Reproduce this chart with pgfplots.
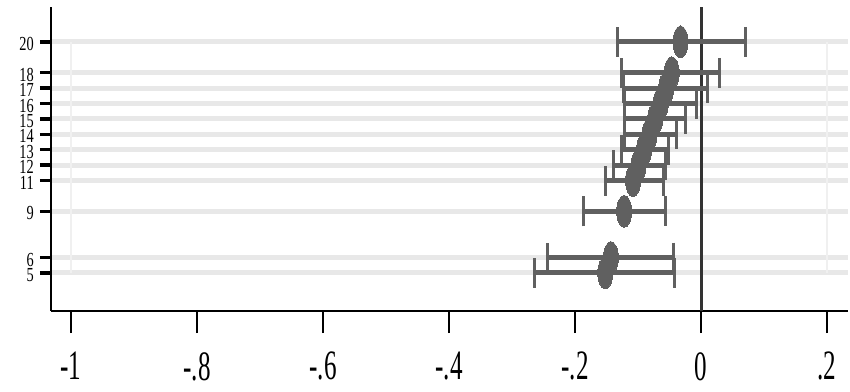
\documentclass[border=0pt]{standalone}
\usepackage{fontspec}
\usepackage{pgfplots}
\usepackage{pgfplotstable}
\pgfplotsset{compat=1.18}
\newfontfamily\xtickfont[FakeStretch=0.6]{Liberation Serif}
\newfontfamily\ytickfont[FakeStretch=0.72]{Liberation Serif}
\definecolor{ptc}{HTML}{606060}
\definecolor{gridc}{HTML}{E8E8E8}
\definecolor{vgridc}{HTML}{F0F0F0}

% coefficient estimates with lower and upper confidence bounds
\pgfplotstableread{
y  est      lo      hi
20 -0.0325  -0.133  0.071
18 -0.0465  -0.127  0.029
17 -0.0553  -0.123  0.010
16 -0.0640  -0.122  -0.007
15 -0.0728  -0.122  -0.024
14 -0.0816  -0.122  -0.039
13 -0.0904  -0.127  -0.051
12 -0.0991  -0.139  -0.056
11 -0.1079  -0.152  -0.059
9  -0.1220  -0.186  -0.056
6  -0.1430  -0.244  -0.044
5  -0.1520  -0.265  -0.042
}\coefs

\begin{document}
\begin{tikzpicture}
\path[use as bounding box] (0,0) rectangle (850bp,392bp);
\begin{axis}[
  at={(51bp,81bp)}, anchor=south west,
  scale only axis, width=797bp, height=304bp,
  xmin=-1.0317, xmax=0.2333,
  ymin=2.53, ymax=22.27,
  axis x line*=bottom, axis y line*=left,
  axis line style={line width=2.6bp, black},
  tick align=outside,
  major tick length=11bp,
  xtick={-1,-0.8,-0.6,-0.4,-0.2,0,0.2},
  xticklabels={-1,-.8,-.6,-.4,-.2,0,.2},
  ytick={5,6,9,11,12,13,14,15,16,17,18,20},
  yticklabels={5,6,9,11,12,13,14,15,16,17,18,20},
  xtick style={/pgfplots/major tick length=22bp, line width=2bp, black},
  ytick style={line width=3.4bp, black},
  xticklabel style={font=\xtickfont\fontsize{42}{42}\selectfont, inner sep=0pt, anchor=north, yshift=-30bp},
  yticklabel style={font=\ytickfont\fontsize{20}{20}\selectfont, inner sep=0pt, anchor=east, xshift=-6bp, yshift=-2bp},
  ymajorgrids,
  major grid style={gridc, line width=5bp},
  clip=false,
]
% faint vertical guides at the outer x labels
\addplot[vgridc, line width=2bp, forget plot] coordinates {(-1,5) (-1,20)};
\addplot[vgridc, line width=2bp, forget plot] coordinates {(0.2,5) (0.2,20)};
% zero reference line
\addplot[black!80, line width=3bp, forget plot] coordinates {(0,2.53) (0,22.27)};
% confidence intervals
\addplot[draw=none, mark=none, forget plot,
  error bars/.cd, x dir=both, x explicit,
  error bar style={draw=ptc, line width=5bp},
  error mark options={draw=ptc, line width=3bp, mark size=15bp, rotate=90}]
  table[x=est, y=y,
        x error plus expr=\thisrow{hi}-\thisrow{est},
        x error minus expr=\thisrow{est}-\thisrow{lo}] {\coefs};
% point estimates
\addplot[only marks, mark=*, mark size=7.5bp, ptc,
  mark options={fill=ptc, draw=ptc, line width=0pt, yscale=2.13}]
  table[x=est, y=y] {\coefs};
\end{axis}
\end{tikzpicture}
\end{document}
